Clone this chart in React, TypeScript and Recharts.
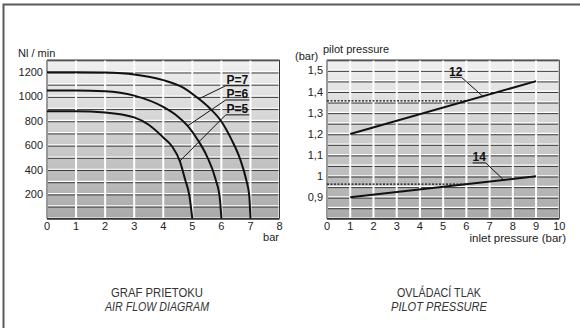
import React from 'react'
import {
  LineChart,
  Line,
  XAxis,
  YAxis,
  CartesianGrid,
  ReferenceLine,
  ReferenceArea,
  ReferenceDot,
  Label,
} from 'recharts'

// air flow diagram (Nl/min vs bar)
const flowTicksX = [0, 1, 2, 3, 4, 5, 6, 7, 8]
const flowTicksY = [0, 100, 200, 300, 400, 500, 600, 700, 800, 900, 1000, 1100, 1200, 1300]

const p7Bar = [0, 1, 2, 3, 4, 4.7, 5.2, 5.6, 6, 6.35, 6.65, 6.85, 6.96, 7]
const p7Flow = [1200, 1200, 1197, 1182, 1135, 1072, 986, 904, 796, 647, 484, 322, 186, 0]

const p6Bar = [0, 1, 2, 3, 4, 4.5, 4.84, 5.2, 5.5, 5.8, 5.95, 6]
const p6Flow = [1050, 1050, 1044, 1008, 915, 837, 760, 640, 512, 322, 159, 0]

const p5Bar = [0, 1, 2, 3, 3.5, 4, 4.3, 4.57, 4.75, 4.9, 5]
const p5Flow = [880, 880, 870, 829, 769, 665, 593, 471, 322, 186, 0]

// pilot pressure diagram
const pilotTicksX = [0, 1, 2, 3, 4, 5, 6, 7, 8, 9, 10]
const pilotTicksY = [0.8, 0.85, 0.9, 0.95, 1, 1.05, 1.1, 1.15, 1.2, 1.25, 1.3, 1.35, 1.4, 1.45, 1.5, 1.55]

const line12Inlet = [1, 9]
const line12Pilot = [1.2, 1.45]
const line14Inlet = [1, 9]
const line14Pilot = [0.9, 1.0]

const zip = (xs: number[], ys: number[]) => xs.map((x, i) => ({ x, y: ys[i] }))

const FONT = '"Liberation Sans", Arial, Helvetica, sans-serif'
const tickStyle = { fontSize: 11, fill: '#222', fontFamily: FONT }
const tagStyle = { fontSize: 12, fontWeight: 'bold', fill: '#111', fontFamily: FONT }

const hLine = (props: any) => (
  <g key={`h-${props.y1}`}>
    <line x1={props.x1} x2={props.x2} y1={props.y1 - 0.5} y2={props.y1 - 0.5} stroke="#fff" strokeWidth={1.2} />
    <line x1={props.x1} x2={props.x2} y1={props.y1 + 0.8} y2={props.y1 + 0.8} stroke="#3c3c3c" strokeWidth={1} />
  </g>
)

const vLine = (props: any) => (
  <line key={`v-${props.x1}`} x1={props.x1} x2={props.x2} y1={props.y1} y2={props.y2} stroke="#fff" strokeWidth={2} />
)

const bgGradient = (id: string) => (
  <defs>
    <linearGradient id={id} x1="0" y1="0" x2="0" y2="1">
      <stop offset="0" stopColor="#f0f0f0" />
      <stop offset="1" stopColor="#a9a9a9" />
    </linearGradient>
  </defs>
)

function FlowChart() {
  return (
    <LineChart width={290} height={250} margin={{ top: 60, right: 10.5, left: 0, bottom: 0 }}>
      {bgGradient('bgFlow')}
      <CartesianGrid fill="url(#bgFlow)" horizontal={hLine} vertical={vLine} />
      <XAxis
        type="number"
        dataKey="x"
        domain={[0, 8]}
        ticks={flowTicksX}
        interval={0}
        height={31.5}
        tickLine={false}
        axisLine={false}
        tickSize={2}
        tickMargin={1.5}
        tick={tickStyle}
      />
      <YAxis
        type="number"
        dataKey="y"
        domain={[0, 1300]}
        ticks={flowTicksY}
        interval={0}
        width={47}
        tickLine={false}
        axisLine={false}
        tickSize={2}
        tickMargin={2}
        tick={tickStyle}
        tickFormatter={(v: number) => (v % 200 === 0 && v > 0 && v < 1300 ? String(v) : '')}
      />
      <ReferenceArea x1={0} x2={8} y1={0} y2={1300} fill="none" stroke="#333" strokeWidth={1} />
      <Line data={zip(p7Bar, p7Flow)} dataKey="y" type="monotone" stroke="#111" strokeWidth={2} dot={false} isAnimationActive={false} />
      <Line data={zip(p6Bar, p6Flow)} dataKey="y" type="monotone" stroke="#111" strokeWidth={2} dot={false} isAnimationActive={false} />
      <Line data={zip(p5Bar, p5Flow)} dataKey="y" type="monotone" stroke="#111" strokeWidth={2} dot={false} isAnimationActive={false} />

      <ReferenceLine segment={[{ x: 6.15, y: 1089 }, { x: 6.96, y: 1089 }]} stroke="#111" strokeWidth={1} />
      <ReferenceLine segment={[{ x: 6.15, y: 1089 }, { x: 5.2, y: 978 }]} stroke="#111" strokeWidth={1} />
      <ReferenceDot x={6.55} y={1089} r={0} stroke="none">
        <Label value="P=7" position="top" offset={1.5} style={tagStyle} />
      </ReferenceDot>

      <ReferenceLine segment={[{ x: 6.15, y: 972 }, { x: 6.96, y: 972 }]} stroke="#111" strokeWidth={1} />
      <ReferenceLine segment={[{ x: 6.15, y: 972 }, { x: 4.84, y: 760 }]} stroke="#111" strokeWidth={1} />
      <ReferenceDot x={6.55} y={972} r={0} stroke="none">
        <Label value="P=6" position="top" offset={1.5} style={tagStyle} />
      </ReferenceDot>

      <ReferenceLine segment={[{ x: 6.15, y: 850 }, { x: 6.96, y: 850 }]} stroke="#111" strokeWidth={1} />
      <ReferenceLine segment={[{ x: 6.15, y: 850 }, { x: 4.57, y: 471 }]} stroke="#111" strokeWidth={1} />
      <ReferenceDot x={6.55} y={850} r={0} stroke="none">
        <Label value="P=5" position="top" offset={1.5} style={tagStyle} />
      </ReferenceDot>
    </LineChart>
  )
}

function PilotChart() {
  return (
    <LineChart width={300} height={250} margin={{ top: 60, right: 20.7, left: 0, bottom: 0 }}>
      {bgGradient('bgPilot')}
      <CartesianGrid fill="url(#bgPilot)" horizontal={hLine} vertical={vLine} />
      <XAxis
        type="number"
        dataKey="x"
        domain={[0, 10]}
        ticks={pilotTicksX}
        interval={0}
        height={31.5}
        tickLine={false}
        axisLine={false}
        tickSize={2}
        tickMargin={1.5}
        tick={tickStyle}
      />
      <YAxis
        type="number"
        dataKey="y"
        domain={[0.8, 1.55]}
        ticks={pilotTicksY}
        interval={0}
        width={47}
        tickLine={false}
        axisLine={false}
        tickSize={2}
        tickMargin={2}
        tick={tickStyle}
        tickFormatter={(v: number) => {
          const r = Math.round(v * 100)
          return r % 10 === 0 && r >= 90 && r <= 150 ? String(r / 100).replace('.', ',') : ''
        }}
      />
      <ReferenceArea x1={0} x2={10} y1={0.8} y2={1.55} fill="none" stroke="#333" strokeWidth={1} />

      <ReferenceLine segment={[{ x: 0, y: 1.357 }, { x: 6, y: 1.357 }]} stroke="#111" strokeWidth={1.3} strokeDasharray="2 1.5" />
      <ReferenceLine segment={[{ x: 0, y: 0.963 }, { x: 6, y: 0.963 }]} stroke="#111" strokeWidth={1.3} strokeDasharray="2 1.5" />

      <Line data={zip(line12Inlet, line12Pilot)} dataKey="y" type="linear" stroke="#111" strokeWidth={2} dot={false} isAnimationActive={false} />
      <Line data={zip(line14Inlet, line14Pilot)} dataKey="y" type="linear" stroke="#111" strokeWidth={2} dot={false} isAnimationActive={false} />

      <ReferenceLine segment={[{ x: 5.29, y: 1.468 }, { x: 5.79, y: 1.468 }]} stroke="#111" strokeWidth={1} />
      <ReferenceLine segment={[{ x: 5.79, y: 1.468 }, { x: 6.73, y: 1.376 }]} stroke="#111" strokeWidth={1} />
      <ReferenceDot x={5.54} y={1.468} r={0} stroke="none">
        <Label value="12" position="top" offset={1.5} style={tagStyle} />
      </ReferenceDot>

      <ReferenceLine segment={[{ x: 6.27, y: 1.063 }, { x: 6.83, y: 1.063 }]} stroke="#111" strokeWidth={1} />
      <ReferenceLine segment={[{ x: 6.83, y: 1.063 }, { x: 7.64, y: 0.979 }]} stroke="#111" strokeWidth={1} />
      <ReferenceDot x={6.55} y={1.063} r={0} stroke="none">
        <Label value="14" position="top" offset={1.5} style={tagStyle} />
      </ReferenceDot>
    </LineChart>
  )
}

export default function App() {
  const txt = { fontFamily: FONT, fill: '#222' }
  const title = { ...txt, fill: '#333' }
  return (
    <div style={{ position: 'relative', width: 580, height: 328, background: '#fff', overflow: 'hidden' }}>
      <style>{'body{margin:0}'}</style>
      <div style={{ position: 'absolute', left: 0, top: 0 }}>
        <FlowChart />
      </div>
      <div style={{ position: 'absolute', left: 280, top: 0 }}>
        <PilotChart />
      </div>
      <svg width={580} height={328} style={{ position: 'absolute', left: 0, top: 0, pointerEvents: 'none' }}>
        <path d="M3.5,328 L3.5,4.5 L580,4.5" fill="none" stroke="#5a5a5a" strokeWidth={2} />
        <text x={18} y={57} fontSize={11} style={txt}>Nl / min</text>
        <text x={279} y={241} fontSize={11} textAnchor="end" style={txt}>bar</text>
        <text x={295} y={60} fontSize={11} style={txt}>(bar)</text>
        <text x={323} y={53} fontSize={11} style={txt}>pilot pressure</text>
        <text x={566} y={242} fontSize={11.5} textAnchor="end" style={txt}>inlet pressure (bar)</text>

        <text x={157} y={296.5} fontSize={13} textAnchor="middle" textLength={92} lengthAdjust="spacingAndGlyphs" style={title}>GRAF PRIETOKU</text>
        <text x={157} y={311} fontSize={13} fontStyle="italic" textAnchor="middle" textLength={104} lengthAdjust="spacingAndGlyphs" style={title}>AIR FLOW DIAGRAM</text>
        <text x={439} y={296.5} fontSize={13} textAnchor="middle" textLength={84} lengthAdjust="spacingAndGlyphs" style={title}>OVLÁDACÍ TLAK</text>
        <text x={439} y={311} fontSize={13} fontStyle="italic" textAnchor="middle" textLength={96} lengthAdjust="spacingAndGlyphs" style={title}>PILOT PRESSURE</text>
      </svg>
    </div>
  )
}
